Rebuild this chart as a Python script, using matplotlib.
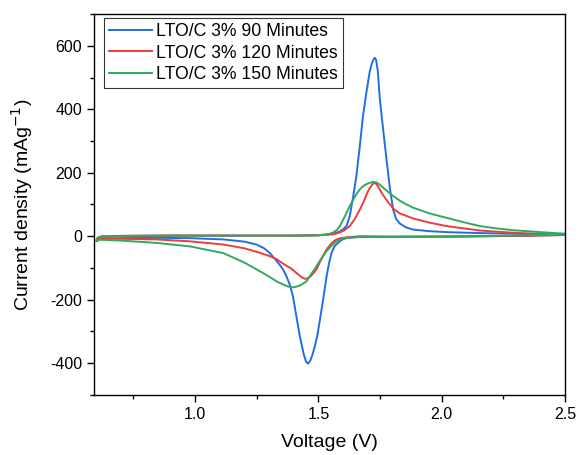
import numpy as np
import matplotlib
matplotlib.use("Agg")
import matplotlib.pyplot as plt
from matplotlib.ticker import MultipleLocator

plt.rcParams['font.family'] = ['Liberation Sans', 'DejaVu Sans']
plt.rcParams['axes.unicode_minus'] = False

labels = ["LTO/C 3% 90 Minutes", "LTO/C 3% 120 Minutes", "LTO/C 3% 150 Minutes"]
colors = ["#1f6fe3", "#ef3b3b", "#33a860"]

# each curve: cathodic sweep 2.5 -> 0.6, then anodic sweep 0.6 -> 2.5
v_90 = [2.50, 2.29, 2.02, 1.80, 1.67, 1.62, 1.60, 1.587, 1.575, 1.565, 1.553, 1.543, 1.533,
        1.52, 1.506, 1.495, 1.485, 1.475, 1.467, 1.458, 1.45, 1.44, 1.425, 1.41, 1.397,
        1.385, 1.371, 1.357, 1.343, 1.32, 1.303, 1.28, 1.249, 1.20, 1.114, 0.98, 0.843,
        0.70, 0.614, 0.60,
        0.605, 0.62, 0.70, 0.90, 1.20, 1.40, 1.50, 1.56, 1.587, 1.60, 1.614, 1.627, 1.64,
        1.654, 1.668, 1.681, 1.695, 1.708, 1.717, 1.724, 1.729, 1.734, 1.741, 1.749, 1.762,
        1.776, 1.79, 1.803, 1.815, 1.83, 1.855, 1.884, 1.95, 2.02, 2.15, 2.29, 2.50]
j_90 = [4, 1, -1, -2, -2, -5, -9, -16, -24, -32, -53, -85, -127,
        -195, -264, -315, -348, -375, -392, -401, -396, -370, -316, -250, -190,
        -155, -127, -105, -90, -68, -53, -38, -26, -17, -10, -6, -5,
        -6, -8, -16,
        -6, -1, 1, 2, 2, 2, 3, 8, 15, 22, 32, 63, 120,
        190, 285, 380, 455, 518, 545, 558, 562, 555, 520, 432, 340,
        243, 150, 84, 55, 40, 28, 21, 16, 13, 10, 8, 5]

v_120 = [2.50, 2.29, 2.02, 1.80, 1.668, 1.62, 1.59, 1.573, 1.553, 1.533, 1.51, 1.492,
         1.47, 1.455, 1.445, 1.43, 1.41, 1.39, 1.36, 1.33, 1.30, 1.262, 1.20,
         1.114, 0.979, 0.843, 0.70, 0.614, 0.60,
         0.605, 0.62, 0.70, 0.90, 1.20, 1.40, 1.50, 1.56, 1.587, 1.607, 1.627, 1.648, 1.668,
         1.685, 1.70, 1.71, 1.72, 1.729, 1.736, 1.743, 1.76, 1.784, 1.805, 1.83, 1.884,
         1.95, 2.02, 2.155, 2.29, 2.50]
j_120 = [4, 1, -1, -1, 0, -3, -6, -10, -22, -42, -75, -105,
         -125, -133, -134, -128, -115, -102, -88, -72, -62, -52, -38,
         -26, -16, -10, -8, -7, -12,
         -4, -1, 1, 2, 2, 2, 3, 6, 12, 20, 32, 55, 84,
         112, 140, 154, 164, 168, 164, 155, 132, 106, 86, 72, 56,
         43, 32, 18, 11, 4]

v_150 = [2.50, 2.29, 2.02, 1.80, 1.668, 1.614, 1.59, 1.573, 1.553, 1.533, 1.51, 1.492,
         1.47, 1.452, 1.43, 1.41, 1.397, 1.38, 1.36, 1.33, 1.30, 1.262, 1.20,
         1.114, 0.979, 0.843, 0.708, 0.614, 0.60,
         0.605, 0.62, 0.70, 0.90, 1.20, 1.40, 1.50, 1.54, 1.56, 1.575, 1.587, 1.607, 1.627,
         1.648, 1.668, 1.685, 1.70, 1.712, 1.722, 1.733, 1.743, 1.757, 1.77, 1.787, 1.803,
         1.83, 1.857, 1.884, 1.95, 2.02, 2.09, 2.155, 2.22, 2.29, 2.40, 2.50]
j_150 = [6, 2, -1, -2, -2, -5, -10, -16, -30, -47, -72, -95,
         -120, -142, -153, -159, -161, -159, -153, -142, -127, -110, -83,
         -53, -32, -21, -14, -11, -14,
         -5, -1, 1, 2, 2, 2, 3, 6, 12, 20, 32, 62, 95,
         125, 148, 160, 166, 169, 171, 170, 166, 157, 148, 137, 127,
         112, 100, 90, 72, 58, 44, 32, 25, 19, 13, 8]

series = [(v_90, j_90), (v_120, j_120), (v_150, j_150)]

fig = plt.figure(figsize=(5.79, 4.55), dpi=100)
ax = fig.add_axes([0.1624, 0.1319, 0.8134, 0.8373])

for (v, j), c, lab in zip(series, colors, labels):
    ax.plot(v, j, color=c, lw=1.4, label=lab)

ax.set_xlim(0.59, 2.5)
ax.set_ylim(-500, 700)
ax.set_xticks([1.0, 1.5, 2.0, 2.5])
ax.set_yticks([-400, -200, 0, 200, 400, 600])
ax.xaxis.set_minor_locator(MultipleLocator(0.25))
ax.yaxis.set_minor_locator(MultipleLocator(100))
ax.tick_params(which='both', direction='out', labelsize=11.5, width=1)
ax.tick_params(which='major', length=5)
ax.tick_params(which='minor', length=3)
for s in ax.spines.values():
    s.set_linewidth(1)

ax.set_xlabel("Voltage (V)", fontsize=14, labelpad=9)
ax.set_ylabel("Current density (mAg$^{-1}$)", fontsize=14, labelpad=11)

leg = ax.legend(loc='upper left', bbox_to_anchor=(0.021, 0.99), borderaxespad=0,
                fontsize=12.7, frameon=True, fancybox=False, edgecolor='black',
                handlelength=2.4, handletextpad=0.25, borderpad=0.3,
                labelspacing=0.25)
leg.get_frame().set_linewidth(0.8)

fig.savefig("out.png", dpi=100)
